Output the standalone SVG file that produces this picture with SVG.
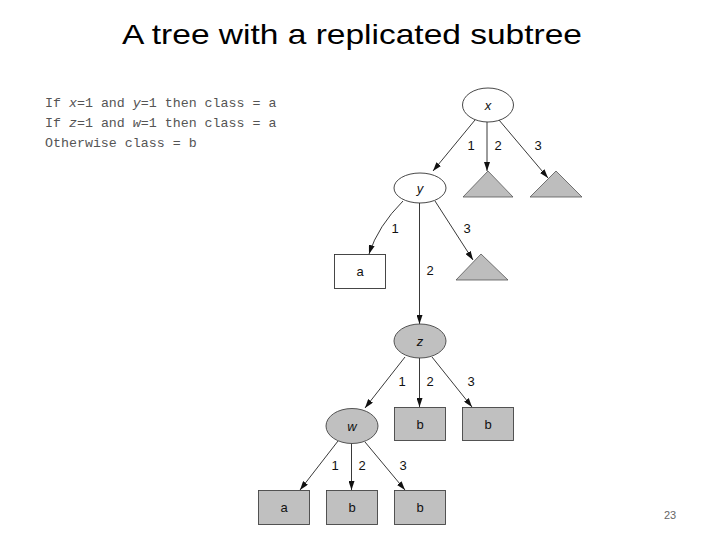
<svg xmlns="http://www.w3.org/2000/svg" width="720" height="540" viewBox="0 0 720 540">
<style>
.title{font-family:"Liberation Sans",Arial,sans-serif;font-size:28px;fill:#000}
.rule{font-family:"Liberation Mono","Courier New",monospace;font-size:13.3px;fill:#555}
.lbl{font-family:"Liberation Sans",Arial,sans-serif;font-size:13px;fill:#111;text-anchor:middle}
.it{font-style:italic}
.edge{fill:none;stroke:#222;stroke-width:0.9}
.wn{fill:#fff;stroke:#333;stroke-width:0.9}
.gn{fill:#c0c0c0;stroke:#444;stroke-width:0.9}
.tri{fill:#bdbdbd;stroke:#555;stroke-width:0.8}
.pg{font-family:"Liberation Sans",Arial,sans-serif;font-size:11px;fill:#666;text-anchor:middle}
</style>
<defs>
<marker id="ah" markerWidth="9" markerHeight="6" refX="9" refY="3" orient="auto" markerUnits="userSpaceOnUse">
<path d="M0,0 L9,3 L0,6 z" fill="#111"/>
</marker>
</defs>
<rect width="720" height="540" fill="#fff"/>
<text class="title" x="352" y="44" text-anchor="middle" textLength="460" lengthAdjust="spacingAndGlyphs">A tree with a replicated subtree</text>
<g id="rules">
<text class="rule" x="45" y="107">If <tspan class="it">x</tspan>=1 and <tspan class="it">y</tspan>=1 then class = a</text>
<text class="rule" x="45" y="127">If <tspan class="it">z</tspan>=1 and <tspan class="it">w</tspan>=1 then class = a</text>
<text class="rule" x="45" y="147">Otherwise class = b</text>
</g>
<g id="connectors">
<line class="edge" x1="475" y1="120" x2="433" y2="171" marker-end="url(#ah)"/>
<line class="edge" x1="487" y1="122" x2="487" y2="171" marker-end="url(#ah)"/>
<line class="edge" x1="499" y1="120" x2="548" y2="178" marker-end="url(#ah)"/>
<path class="edge" d="M403,201 Q378,226 369,254" marker-end="url(#ah)"/>
<line class="edge" x1="419.5" y1="203" x2="419.5" y2="324" marker-end="url(#ah)"/>
<line class="edge" x1="435" y1="201" x2="473" y2="260" marker-end="url(#ah)"/>
<line class="edge" x1="405" y1="357" x2="365" y2="408" marker-end="url(#ah)"/>
<line class="edge" x1="419.5" y1="358" x2="419.5" y2="407" marker-end="url(#ah)"/>
<line class="edge" x1="432" y1="357" x2="472" y2="407" marker-end="url(#ah)"/>
<line class="edge" x1="338" y1="441" x2="300" y2="490" marker-end="url(#ah)"/>
<line class="edge" x1="351.5" y1="443" x2="351.5" y2="490" marker-end="url(#ah)"/>
<line class="edge" x1="365" y1="442" x2="405" y2="490" marker-end="url(#ah)"/>
<text class="lbl" x="471" y="150">1</text>
<text class="lbl" x="498" y="150">2</text>
<text class="lbl" x="538" y="150">3</text>
<text class="lbl" x="395" y="233">1</text>
<text class="lbl" x="430" y="275">2</text>
<text class="lbl" x="467" y="233">3</text>
<text class="lbl" x="402" y="386">1</text>
<text class="lbl" x="430" y="386">2</text>
<text class="lbl" x="471" y="386">3</text>
<text class="lbl" x="335" y="470">1</text>
<text class="lbl" x="362" y="470">2</text>
<text class="lbl" x="403" y="470">3</text>
</g>
<g id="node-x"><ellipse class="wn" cx="488" cy="105" rx="25.5" ry="17"/><text class="lbl it" x="488" y="110">x</text></g>
<g id="tri-x2"><polygon class="tri" points="488,171 463,197 513,197"/></g>
<g id="tri-x3"><polygon class="tri" points="556,171 530,197 582,197"/></g>
<g id="node-y"><ellipse class="wn" cx="420" cy="188" rx="26" ry="15"/><text class="lbl it" x="420" y="193">y</text></g>
<g id="leaf-a1"><rect class="wn" x="334.5" y="254.5" width="51" height="34"/><text class="lbl" x="360" y="276">a</text></g>
<g id="tri-y3"><polygon class="tri" points="481,254 456,280 508,280"/></g>
<g id="node-z"><ellipse class="gn" cx="420" cy="341" rx="26" ry="17"/><text class="lbl it" x="420" y="346">z</text></g>
<g id="leaf-b1"><rect class="gn" x="394.5" y="407.5" width="51" height="33"/><text class="lbl" x="420" y="429">b</text></g>
<g id="leaf-b2"><rect class="gn" x="462.5" y="407.5" width="51" height="33"/><text class="lbl" x="488" y="429">b</text></g>
<g id="node-w"><ellipse class="gn" cx="352" cy="426" rx="26" ry="17.5"/><text class="lbl it" x="352" y="431">w</text></g>
<g id="leaf-a2"><rect class="gn" x="258.5" y="490.5" width="51" height="34"/><text class="lbl" x="284" y="512">a</text></g>
<g id="leaf-b3"><rect class="gn" x="326.5" y="490.5" width="51" height="34"/><text class="lbl" x="352" y="512">b</text></g>
<g id="leaf-b4"><rect class="gn" x="394.5" y="490.5" width="51" height="34"/><text class="lbl" x="420" y="512">b</text></g>
<text class="pg" x="670" y="519">23</text>
</svg>
